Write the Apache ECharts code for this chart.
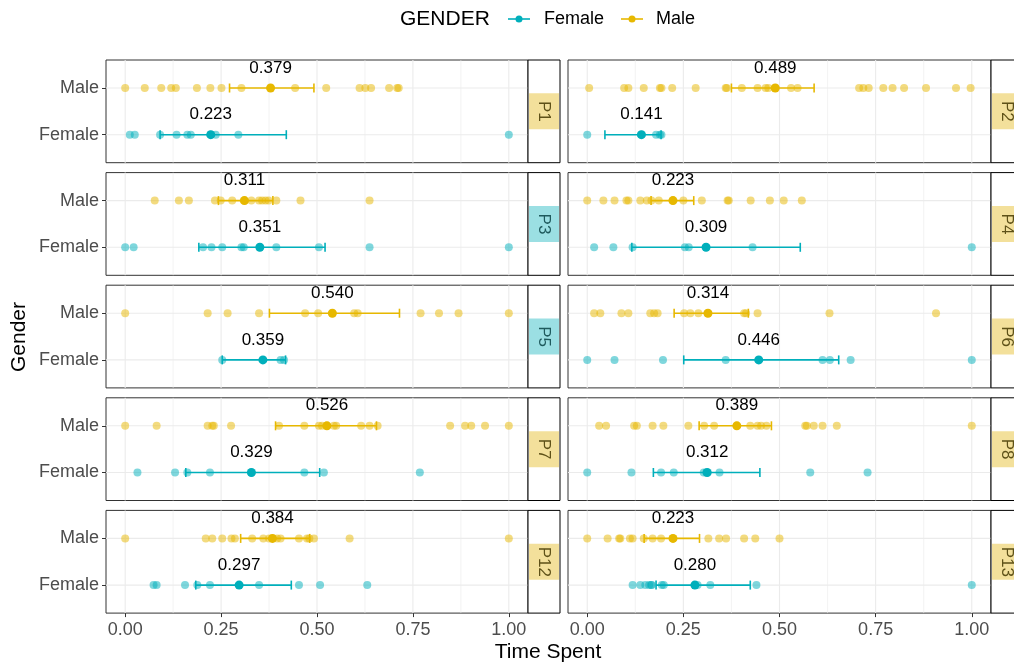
<!DOCTYPE html>
<html>
<head>
<meta charset="utf-8">
<script src="https://cdn.jsdelivr.net/npm/echarts@6/dist/echarts.min.js"></script>
<style>
html,body{margin:0;padding:0;background:#fff;}
#chart{width:1014px;height:667px;}
</style>
</head>
<body>
<div id="chart"></div>
<script>
// ---------------- DATA ----------------
const panels = ['P1', 'P2', 'P3', 'P4', 'P5', 'P6', 'P7', 'P8', 'P12', 'P13'];
const stripGroup = ['Male', 'Male', 'Female', 'Male', 'Female', 'Male', 'Male', 'Male', 'Male', 'Male'];
const xTicks = [0, 0.25, 0.5, 0.75, 1];
const yTicks = ['Female', 'Male'];

const p1Male = [0, 0.051, 0.094, 0.120, 0.132, 0.187, 0.222, 0.251, 0.303, 0.443, 0.524, 0.611, 0.626, 0.641, 0.688, 0.709, 0.713];
const p1Female = [0.012, 0.025, 0.091, 0.134, 0.162, 0.171, 0.223, 0.236, 0.295, 1.0];
const p2Male = [0.005, 0.096, 0.107, 0.147, 0.189, 0.193, 0.221, 0.282, 0.360, 0.363, 0.402, 0.443, 0.464, 0.471, 0.488, 0.530, 0.547, 0.707, 0.718, 0.732, 0.770, 0.794, 0.824, 0.881, 0.959, 0.997];
const p2Female = [0, 0.140, 0.179, 0.189, 0.193];
const p3Male = [0.077, 0.140, 0.166, 0.234, 0.249, 0.279, 0.309, 0.329, 0.349, 0.357, 0.366, 0.374, 0.394, 0.457, 0.637];
const p3Female = [0, 0.022, 0.203, 0.225, 0.253, 0.303, 0.309, 0.351, 0.394, 0.505, 0.637, 1.0];
const p4Male = [0, 0.042, 0.071, 0.102, 0.107, 0.138, 0.155, 0.167, 0.186, 0.222, 0.250, 0.298, 0.365, 0.368, 0.425, 0.475, 0.511, 0.558];
const p4Female = [0.018, 0.068, 0.118, 0.254, 0.264, 0.309, 0.430, 1.0];
const p5Male = [0, 0.215, 0.267, 0.349, 0.469, 0.503, 0.540, 0.597, 0.606, 0.770, 0.818, 0.869, 1.0];
const p5Female = [0.253, 0.405, 0.414];
const p6Male = [0.018, 0.034, 0.089, 0.107, 0.164, 0.174, 0.183, 0.252, 0.268, 0.289, 0.313, 0.408, 0.413, 0.443, 0.630, 0.907];
const p6Female = [0, 0.071, 0.197, 0.360, 0.446, 0.612, 0.631, 0.685, 1.0];
const p7Male = [0, 0.082, 0.215, 0.227, 0.231, 0.276, 0.401, 0.467, 0.505, 0.513, 0.524, 0.544, 0.550, 0.615, 0.637, 0.658, 0.847, 0.886, 0.902, 0.938, 1.0];
const p7Female = [0.032, 0.130, 0.162, 0.221, 0.329, 0.467, 0.518, 0.768];
const p8Male = [0.031, 0.049, 0.122, 0.129, 0.170, 0.198, 0.263, 0.304, 0.330, 0.389, 0.424, 0.443, 0.452, 0.466, 0.567, 0.571, 0.589, 0.612, 0.649, 1.0];
const p8Female = [0, 0.115, 0.192, 0.225, 0.303, 0.310, 0.344, 0.580, 0.729];
const p12Male = [0, 0.210, 0.227, 0.253, 0.277, 0.286, 0.331, 0.360, 0.375, 0.384, 0.396, 0.405, 0.453, 0.474, 0.480, 0.492, 0.585, 1.0];
const p12Female = [0.074, 0.082, 0.156, 0.188, 0.221, 0.297, 0.349, 0.453, 0.508, 0.631];
const p13Male = [0, 0.053, 0.083, 0.086, 0.111, 0.118, 0.147, 0.170, 0.192, 0.223, 0.315, 0.343, 0.361, 0.408, 0.437, 0.500];
const p13Female = [0.118, 0.138, 0.151, 0.161, 0.166, 0.168, 0.194, 0.199, 0.280, 0.287, 0.320, 0.440, 1.0];

const malePts = [p1Male, p2Male, p3Male, p4Male, p5Male, p6Male, p7Male, p8Male, p12Male, p13Male];
const femalePts = [p1Female, p2Female, p3Female, p4Female, p5Female, p6Female, p7Female, p8Female, p12Female, p13Female];

const maleMean = [0.379, 0.489, 0.311, 0.223, 0.540, 0.314, 0.526, 0.389, 0.384, 0.223];
const maleLo = [0.272, 0.375, 0.243, 0.166, 0.376, 0.226, 0.392, 0.291, 0.301, 0.148];
const maleHi = [0.492, 0.590, 0.385, 0.277, 0.715, 0.419, 0.655, 0.479, 0.481, 0.292];
const femaleMean = [0.223, 0.141, 0.351, 0.309, 0.359, 0.446, 0.329, 0.312, 0.297, 0.280];
const femaleLo = [0.091, 0.046, 0.192, 0.116, 0.253, 0.251, 0.158, 0.172, 0.184, 0.179];
const femaleHi = [0.420, 0.192, 0.521, 0.554, 0.418, 0.654, 0.507, 0.449, 0.433, 0.424];

// ---------------- STYLE ----------------
const FONT = '"Liberation Sans", Arial, sans-serif';
const COL = { Female: '#00AFBB', Male: '#E7B800' };
const STRIP_FILL = { Female: '#9BDFE3', Male: '#F3E09B' };
const STRIP_TEXT = { Female: '#1f5a5d', Male: '#5e5118' };
const rowTops = [60, 172.6, 285.2, 397.8, 510.4];
const panelH = 102.7;
const colLeft = [106, 568];
const colWidth = [422, 423];
const stripW = 32;

const grids = [], xAxes = [], yAxes = [], series = [], graphics = [];

function errRender(params, api) {
  const lo = api.coord([api.value(0), api.value(2)]);
  const hi = api.coord([api.value(1), api.value(2)]);
  const color = api.visual('color');
  const style = { stroke: color, lineWidth: 1.6 };
  return {
    type: 'group',
    children: [
      { type: 'line', shape: { x1: lo[0], y1: lo[1], x2: hi[0], y2: hi[1] }, style },
      { type: 'line', shape: { x1: lo[0], y1: lo[1] - 4.5, x2: lo[0], y2: lo[1] + 4.5 }, style },
      { type: 'line', shape: { x1: hi[0], y1: hi[1] - 4.5, x2: hi[0], y2: hi[1] + 4.5 }, style }
    ]
  };
}

function gridRender(params, api) {
  const children = [];
  for (let k = 0; k <= 8; k++) {
    const v = k * 0.125;
    const a = api.coord([v, 0.4]), b = api.coord([v, 2.6]);
    children.push({ type: 'line', shape: { x1: a[0], y1: a[1], x2: b[0], y2: b[1] },
      style: { stroke: '#ebebeb', lineWidth: k % 2 === 0 ? 1.1 : 0.6 } });
  }
  [1, 2].forEach(y => {
    const a = api.coord([-0.05, y]), b = api.coord([1.05, y]);
    children.push({ type: 'line', shape: { x1: a[0], y1: a[1], x2: b[0], y2: b[1] },
      style: { stroke: '#ebebeb', lineWidth: 1.1 } });
  });
  return { type: 'group', children };
}

panels.forEach((name, i) => {
  const row = Math.floor(i / 2), col = i % 2;
  const top = rowTops[row];
  const left = colLeft[col], width = colWidth[col];
  const bottomRow = row === 4, leftCol = col === 0;
  grids.push({ left, top, width, height: panelH, show: true, borderColor: '#333', borderWidth: 1, backgroundColor: '#fff' });
  xAxes.push({
    type: 'value', gridIndex: i, min: -0.05, max: 1.05, position: 'bottom',
    axisLine: { show: false, onZero: false },
    axisTick: { show: bottomRow, customValues: xTicks, length: 4, lineStyle: { color: '#333' } },
    axisLabel: { show: bottomRow, customValues: xTicks, formatter: v => v.toFixed(2), color: '#4d4d4d', fontSize: 18, fontFamily: FONT, margin: 8 },
    splitLine: { show: false }
  });
  yAxes.push({
    type: 'value', gridIndex: i, min: 0.4, max: 2.6, position: 'left',
    axisLine: { show: false, onZero: false },
    axisTick: { show: leftCol, customValues: [1, 2], length: 4, lineStyle: { color: '#333' } },
    axisLabel: { show: leftCol, customValues: [1, 2], formatter: v => yTicks[Math.round(v) - 1], color: '#4d4d4d', fontSize: 18, fontFamily: FONT, margin: 7 },
    splitLine: { show: false }
  });
  series.push({ type: 'custom', xAxisIndex: i, yAxisIndex: i, silent: true, z: 1, renderItem: gridRender, data: [[0, 1]] });
  series.push({ type: 'scatter', name: 'Male', xAxisIndex: i, yAxisIndex: i, z: 2, symbolSize: 8,
    itemStyle: { color: COL.Male, opacity: 0.5 }, data: malePts[i].map(v => [v, 2]) });
  series.push({ type: 'scatter', name: 'Female', xAxisIndex: i, yAxisIndex: i, z: 2, symbolSize: 8,
    itemStyle: { color: COL.Female, opacity: 0.5 }, data: femalePts[i].map(v => [v, 1]) });
  series.push({ type: 'custom', xAxisIndex: i, yAxisIndex: i, z: 3, renderItem: errRender,
    itemStyle: { color: COL.Male }, data: [[maleLo[i], maleHi[i], 2]] });
  series.push({ type: 'custom', xAxisIndex: i, yAxisIndex: i, z: 3, renderItem: errRender,
    itemStyle: { color: COL.Female }, data: [[femaleLo[i], femaleHi[i], 1]] });
  const lbl = { show: true, position: 'top', distance: 7, formatter: p => p.value[0].toFixed(3), color: '#000', fontSize: 17, fontFamily: FONT };
  series.push({ type: 'scatter', xAxisIndex: i, yAxisIndex: i, z: 4, symbolSize: 9,
    itemStyle: { color: COL.Male, opacity: 1 }, label: lbl, data: [[maleMean[i], 2]] });
  series.push({ type: 'scatter', xAxisIndex: i, yAxisIndex: i, z: 4, symbolSize: 9,
    itemStyle: { color: COL.Female, opacity: 1 }, label: lbl, data: [[femaleMean[i], 1]] });

  // strip
  const sx = left + width;
  graphics.push({ type: 'rect', shape: { x: sx, y: top, width: stripW, height: panelH }, style: { fill: '#fff', stroke: '#000', lineWidth: 1 }, z: 10 });
  const g = stripGroup[i];
  graphics.push({ type: 'rect', shape: { x: sx + 1, y: top + panelH / 2 - 18, width: stripW - 2, height: 36 }, style: { fill: STRIP_FILL[g] }, z: 11 });
  graphics.push({ type: 'text', x: sx + stripW / 2, y: top + panelH / 2, rotation: -Math.PI / 2,
    style: { text: name, fill: STRIP_TEXT[g], font: '17px ' + FONT, align: 'center', verticalAlign: 'middle' }, z: 12 });
});

// legend
graphics.push({ type: 'text', x: 400, y: 19, style: { text: 'GENDER', fill: '#000', font: '21px ' + FONT, verticalAlign: 'middle' } });
[['Female', 508, 544], ['Male', 621, 656]].forEach(([g, lx, tx]) => {
  graphics.push({ type: 'line', shape: { x1: lx, y1: 19, x2: lx + 22, y2: 19 }, style: { stroke: COL[g], lineWidth: 1.6 } });
  graphics.push({ type: 'circle', shape: { cx: lx + 11, cy: 19, r: 3.5 }, style: { fill: COL[g] } });
  graphics.push({ type: 'text', x: tx, y: 19, style: { text: g, fill: '#000', font: '18px ' + FONT, verticalAlign: 'middle' } });
});
// axis titles
graphics.push({ type: 'text', x: 548, y: 652, style: { text: 'Time Spent', fill: '#000', font: '21px ' + FONT, align: 'center', verticalAlign: 'middle' } });
graphics.push({ type: 'text', x: 19, y: 337, rotation: Math.PI / 2, style: { text: 'Gender', fill: '#000', font: '21px ' + FONT, align: 'center', verticalAlign: 'middle' } });

const chart = echarts.init(document.getElementById('chart'), null, { renderer: 'canvas' });
chart.setOption({
  animation: false,
  backgroundColor: '#fff',
  grid: grids,
  xAxis: xAxes,
  yAxis: yAxes,
  series,
  graphic: graphics
});
</script>
</body>
</html>
